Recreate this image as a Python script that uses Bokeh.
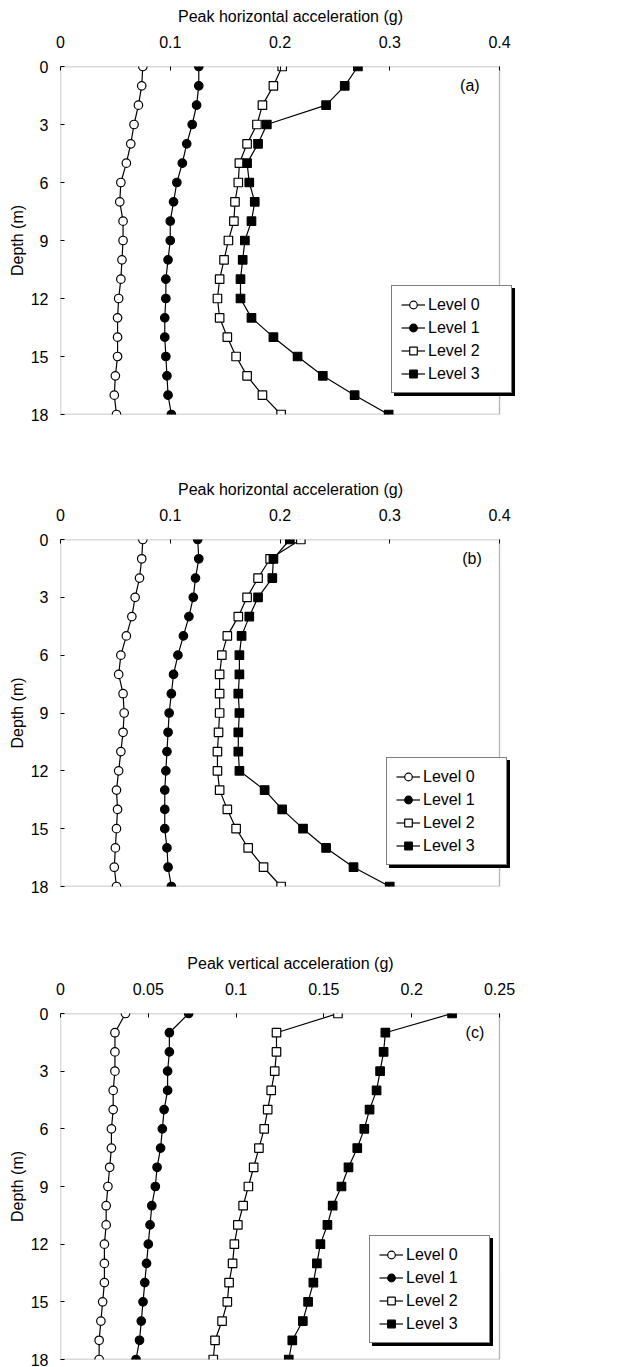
from bokeh.plotting import figure
from bokeh.models import Range1d, FixedTicker, Legend, LegendItem, Label, BoxAnnotation
from bokeh.layouts import column
from bokeh.embed import file_html
from bokeh.resources import INLINE

depth = list(range(19))
depth_ticks = [0, 3, 6, 9, 12, 15, 18]

h_ticks = [0, 0.1, 0.2, 0.3, 0.4]
h_tick_labels = ["0", "0.1", "0.2", "0.3", "0.4"]
v_ticks = [0, 0.05, 0.1, 0.15, 0.2, 0.25]
v_tick_labels = ["0", "0.05", "0.1", "0.15", "0.2", "0.25"]

level_names = ["Level 0", "Level 1", "Level 2", "Level 3"]

a_level0 = [0.075, 0.074, 0.071, 0.067, 0.064, 0.060, 0.055, 0.054, 0.057, 0.057, 0.056, 0.055, 0.053, 0.052, 0.052, 0.052, 0.050, 0.049, 0.051]
a_level1 = [0.126, 0.126, 0.124, 0.120, 0.115, 0.111, 0.106, 0.103, 0.100, 0.100, 0.098, 0.096, 0.096, 0.095, 0.095, 0.096, 0.097, 0.098, 0.101]
a_level2 = [0.202, 0.194, 0.184, 0.179, 0.170, 0.163, 0.162, 0.159, 0.158, 0.153, 0.149, 0.145, 0.143, 0.145, 0.152, 0.160, 0.170, 0.184, 0.201]
a_level3 = [0.271, 0.259, 0.242, 0.188, 0.180, 0.170, 0.172, 0.177, 0.174, 0.168, 0.166, 0.164, 0.164, 0.174, 0.194, 0.216, 0.239, 0.268, 0.299]

b_level0 = [0.075, 0.074, 0.072, 0.068, 0.065, 0.060, 0.055, 0.053, 0.057, 0.058, 0.057, 0.055, 0.053, 0.051, 0.052, 0.051, 0.050, 0.049, 0.051]
b_level1 = [0.125, 0.126, 0.123, 0.121, 0.117, 0.112, 0.107, 0.103, 0.101, 0.099, 0.098, 0.097, 0.096, 0.095, 0.095, 0.095, 0.097, 0.098, 0.101]
b_level2 = [0.219, 0.191, 0.180, 0.170, 0.162, 0.152, 0.147, 0.145, 0.145, 0.145, 0.144, 0.143, 0.143, 0.145, 0.152, 0.160, 0.171, 0.185, 0.201]
b_level3 = [0.209, 0.194, 0.193, 0.180, 0.172, 0.165, 0.163, 0.163, 0.162, 0.163, 0.162, 0.162, 0.163, 0.186, 0.202, 0.221, 0.242, 0.267, 0.300]

c_level0 = [0.037, 0.031, 0.031, 0.031, 0.030, 0.030, 0.029, 0.029, 0.028, 0.027, 0.026, 0.026, 0.025, 0.025, 0.025, 0.024, 0.023, 0.022, 0.022]
c_level1 = [0.073, 0.062, 0.062, 0.061, 0.061, 0.059, 0.058, 0.057, 0.055, 0.054, 0.052, 0.051, 0.050, 0.049, 0.048, 0.047, 0.046, 0.045, 0.043]
c_level2 = [0.158, 0.123, 0.123, 0.122, 0.120, 0.118, 0.116, 0.113, 0.110, 0.107, 0.104, 0.101, 0.099, 0.098, 0.096, 0.095, 0.092, 0.088, 0.087]
c_level3 = [0.223, 0.185, 0.184, 0.182, 0.180, 0.176, 0.173, 0.169, 0.164, 0.160, 0.155, 0.152, 0.148, 0.146, 0.144, 0.141, 0.138, 0.132, 0.130]

FONT = "Liberation Sans"
MARKERS = [("circle", "white"), ("circle", "black"), ("square", "white"), ("square", "black")]
BOX_W = 439      # pixel width of the drawn axes box
FRAME_W = 460    # frame is a little wider so the legend can overhang the box


def make_panel(series, x_max, xticks, xlabels, xtitle, tag, tag_x, height, top, bottom, leg_loc):
    x_end = x_max * FRAME_W / BOX_W
    p = figure(width=634, height=height, output_backend="svg", toolbar_location=None,
               x_range=Range1d(0, x_end), y_range=Range1d(18, 0),
               x_axis_location="above", min_border_left=60, min_border_right=634 - 60 - FRAME_W,
               min_border_top=top, min_border_bottom=bottom)
    p.grid.visible = False
    p.outline_line_color = None
    p.background_fill_color = "white"
    p.border_fill_color = "white"

    xa = p.xaxis[0]
    xa.ticker = FixedTicker(ticks=xticks)
    xa.major_label_overrides = {t: l for t, l in zip(xticks, xlabels)}
    xa.axis_label = xtitle
    ya = p.yaxis[0]
    ya.ticker = FixedTicker(ticks=depth_ticks)
    ya.axis_label = "Depth (m)"
    for ax in (xa, ya):
        ax.axis_line_color = None
        ax.major_tick_in = 4
        ax.major_tick_out = 0
        ax.minor_tick_line_color = None
        ax.major_tick_line_color = "black"
        ax.major_label_text_font = FONT
        ax.major_label_text_font_size = "16px"
        ax.major_label_text_color = "black"
        ax.axis_label_text_font = FONT
        ax.axis_label_text_font_size = "16px"
        ax.axis_label_text_font_style = "normal"
        ax.axis_label_text_color = "black"
    xa.major_label_standoff = 19
    xa.axis_label_standoff = 8
    ya.major_label_standoff = 12
    ya.axis_label_standoff = 2

    # axes box spanning the axis ranges
    p.add_layout(BoxAnnotation(left=0, right=x_max, top=0, bottom=18, fill_alpha=0,
                               line_color="black", line_width=1.3, level="underlay"))

    items = []
    items_sh = []
    for vals, name, (mk, fill) in zip(series, level_names, MARKERS):
        ln = p.line(vals, depth, line_color="black", line_width=1.2)
        sc = p.scatter(vals, depth, marker=mk, size=8.5, fill_color=fill, line_color="black", line_width=1.2)
        items.append(LegendItem(label=name, renderers=[ln, sc]))
        items_sh.append(LegendItem(label=" ", renderers=[ln, sc]))

    common = dict(label_text_font=FONT, label_text_font_size="16px", glyph_width=24, glyph_height=19,
                  label_height=19, spacing=4, padding=9, label_standoff=3, label_width=74, margin=0,
                  border_line_color="black", border_line_width=1.2, background_fill_alpha=1.0)
    shadow = Legend(items=items_sh, location=(leg_loc[0] + 3, leg_loc[1] - 3),
                    background_fill_color="black", label_text_color="black", **common)
    p.add_layout(shadow, "center")
    leg = Legend(items=items, location=leg_loc, background_fill_color="white",
                 label_text_color="black", **common)
    p.add_layout(leg, "center")

    p.add_layout(Label(x=tag_x, y=1.0, text=tag, text_align="center", text_baseline="middle",
                       text_font=FONT, text_font_size="16px", text_color="black"))
    return p


pa = make_panel([a_level0, a_level1, a_level2, a_level3], 0.4, h_ticks, h_tick_labels,
                "Peak horizontal acceleration (g)", "(a)", 0.373, 460, 66, 46, (331, 21))
pb = make_panel([b_level0, b_level1, b_level2, b_level3], 0.4, h_ticks, h_tick_labels,
                "Peak horizontal acceleration (g)", "(b)", 0.375, 473, 79, 47, (326, 21))
pc = make_panel([c_level0, c_level1, c_level2, c_level3], 0.25, v_ticks, v_tick_labels,
                "Peak vertical acceleration (g)", "(c)", 0.236, 434, 80, 8, (309, 16))

layout = column(pa, pb, pc, spacing=0)
open("out.html", "w").write(file_html(layout, INLINE))
